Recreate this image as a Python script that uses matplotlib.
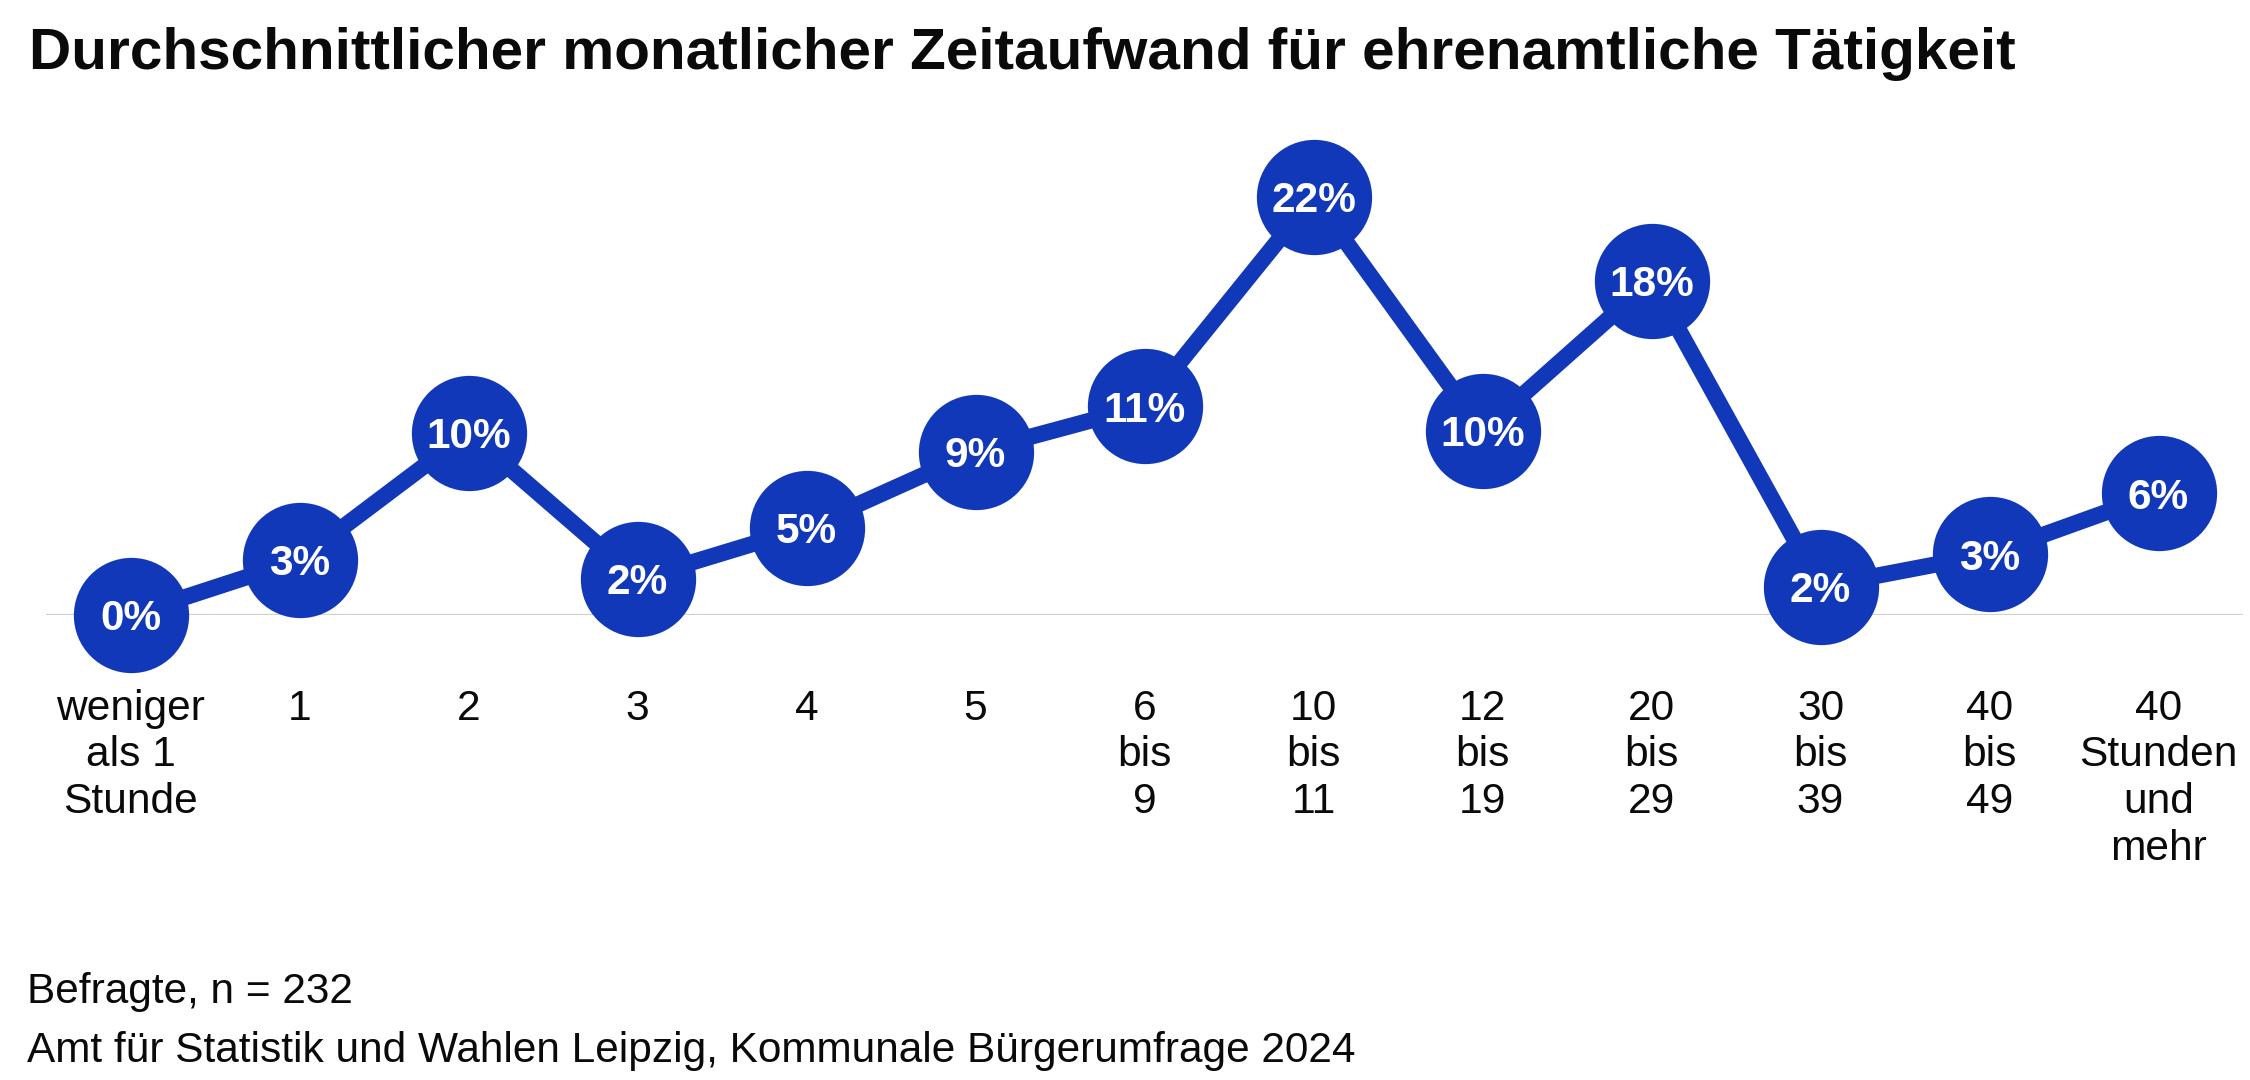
import matplotlib
matplotlib.use("Agg")
import matplotlib.pyplot as plt

plt.rcParams['font.family'] = ['Liberation Sans', 'DejaVu Sans']

categories = ["weniger\nals 1\nStunde", "1", "2", "3", "4", "5", "6\nbis\n9",
              "10\nbis\n11", "12\nbis\n19", "20\nbis\n29", "30\nbis\n39",
              "40\nbis\n49", "40\nStunden\nund\nmehr"]
values = [0.0, 2.9, 9.6, 1.9, 4.6, 8.6, 11.0, 22.0, 9.7, 17.6, 1.5, 3.2, 6.4]

title = "Durchschnittlicher monatlicher Zeitaufwand für ehrenamtliche Tätigkeit"
footer1 = "Befragte, n = 232"
footer2 = "Amt für Statistik und Wahlen Leipzig, Kommunale Bürgerumfrage 2024"

W, H, DPI = 2250, 1080, 100
BLUE = "#1138b8"
TXT = "#0a0a0a"

fig = plt.figure(figsize=(W / DPI, H / DPI), dpi=DPI)

# axes in pixel terms: left 46, right 2243, bottom (zero line) 615, top 140
left, right, bottom, top = 46, 2243, 615, 140
ax = fig.add_axes([left / W, 1 - bottom / H, (right - left) / W, (bottom - top) / H])
ax.set_xlim(-0.5, len(values) - 0.5)
ax.set_ylim(0, 25)
ax.axis('off')

ax.axhline(0, color="#d0d0d0", lw=1.6, zorder=1, xmin=0, xmax=1)

x = list(range(len(values)))
ax.plot(x, values, color=BLUE, lw=11.8, solid_joinstyle='round',
        marker='o', markersize=83, markerfacecolor=BLUE, markeredgewidth=0,
        clip_on=False, zorder=3)

for xi, v in zip(x, values):
    ax.text(xi, v, f"{v:.0f}%", color="white", fontsize=30.5, fontweight='bold',
            ha='center', va='center_baseline', zorder=4, clip_on=False)

for xi, lab in zip(x, categories):
    ax.annotate(lab, xy=(xi, 0), xycoords='data', xytext=(0, -53),
                textcoords='offset points', ha='center', va='top',
                fontsize=30.6, color=TXT, linespacing=1.22,
                annotation_clip=False)

fig.text(29 / W, 1 - 69 / H, title, fontsize=42.1, fontweight='bold',
         color=TXT, ha='left', va='baseline')
fig.text(27 / W, 1 - 1003 / H, footer1, fontsize=30.5, color=TXT,
         ha='left', va='baseline')
fig.text(27 / W, 1 - 1062 / H, footer2, fontsize=30.5, color=TXT,
         ha='left', va='baseline')

fig.savefig("out.png", dpi=DPI, facecolor="white")
